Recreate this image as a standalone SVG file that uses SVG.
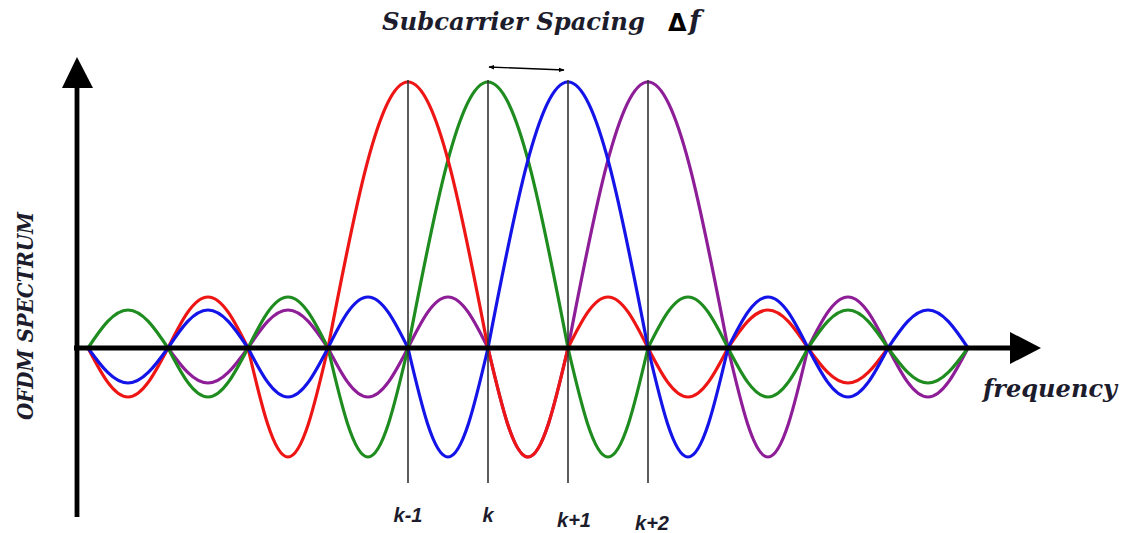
<svg xmlns="http://www.w3.org/2000/svg" width="1126" height="533" viewBox="0 0 1126 533">
<style>
.curve{fill:none;stroke-width:3.2;stroke-linejoin:round;stroke-linecap:round}
.axis{stroke:#000;stroke-width:4.8;fill:none}
.tick{stroke:#333;stroke-width:1.6}
.lbl{font-family:"DejaVu Serif","Liberation Serif",serif;font-weight:bold;font-style:italic;fill:#1c1c2c}
.kl{font-family:"Liberation Sans","DejaVu Sans",sans-serif;font-weight:bold;font-style:italic;fill:#1c1c2c;font-size:20px}
</style>
<defs>
<marker id="ah" viewBox="0 0 10 10" refX="9" refY="5" markerWidth="6" markerHeight="6" orient="auto-start-reverse" markerUnits="userSpaceOnUse">
<path d="M0,1 L10,5 L0,9 z" fill="#000"/>
</marker>
</defs>
<rect width="1126" height="533" fill="#fff"/>
<g id="curves">
<path id="purple" class="curve" stroke="#8e1d98" d="M168,348 c13.05,17.94 25.54,35 40,35 c14.46,0 26.95,-17.06 40,-35 c13.05,-19.48 25.54,-38 40,-38 c14.46,0 26.95,18.52 40,38 c13.05,25.11 25.54,49 40,49 c14.46,0 26.95,-23.89 40,-49 c13.05,-26.14 25.54,-51 40,-51 c14.46,0 26.95,24.86 40,51 c13.05,55.86 25.54,109 40,109 c14.46,0 26.95,-53.14 40,-109 c26.10,-136.33 51.08,-266 80,-266 c28.92,0 53.90,129.68 80,266 c13.05,55.86 25.54,109 40,109 c14.46,0 26.95,-53.14 40,-109 c13.05,-26.14 25.54,-51 40,-51 c14.46,0 26.95,24.86 40,51 c13.05,25.11 25.54,49 40,49 c14.46,0 26.95,-23.89 40,-49"/>
<path id="green" class="curve" stroke="#1f8c1f" d="M88,348 c13.05,-19.48 25.54,-38 40,-38 c14.46,0 26.95,18.52 40,38 c13.05,25.11 25.54,49 40,49 c14.46,0 26.95,-23.89 40,-49 c13.05,-26.14 25.54,-51 40,-51 c14.46,0 26.95,24.86 40,51 c13.05,55.86 25.54,109 40,109 c14.46,0 26.95,-53.14 40,-109 c26.10,-136.33 51.08,-266 80,-266 c28.92,0 53.90,129.68 80,266 c13.05,55.86 25.54,109 40,109 c14.46,0 26.95,-53.14 40,-109 c13.05,-26.14 25.54,-51 40,-51 c14.46,0 26.95,24.86 40,51 c13.05,25.11 25.54,49 40,49 c14.46,0 26.95,-23.89 40,-49 c13.05,-19.48 25.54,-38 40,-38 c14.46,0 26.95,18.52 40,38 c13.05,17.94 25.54,35 40,35 c14.46,0 26.95,-17.06 40,-35"/>
<path id="red" class="curve" stroke="#ee1515" d="M88,348 c13.05,25.11 25.54,49 40,49 c14.46,0 26.95,-23.89 40,-49 c13.05,-26.14 25.54,-51 40,-51 c14.46,0 26.95,24.86 40,51 c13.05,55.86 25.54,109 40,109 c14.46,0 26.95,-53.14 40,-109 c26.10,-136.33 51.08,-266 80,-266 c28.92,0 53.90,129.68 80,266 c13.05,55.86 25.54,109 40,109 c14.46,0 26.95,-53.14 40,-109 c13.05,-26.14 25.54,-51 40,-51 c14.46,0 26.95,24.86 40,51 c13.05,25.11 25.54,49 40,49 c14.46,0 26.95,-23.89 40,-49 c13.05,-19.48 25.54,-38 40,-38 c14.46,0 26.95,18.52 40,38 c13.05,17.94 25.54,35 40,35 c14.46,0 26.95,-17.06 40,-35"/>
<path id="blue" class="curve" stroke="#1414e8" d="M88,348 c13.05,17.94 25.54,35 40,35 c14.46,0 26.95,-17.06 40,-35 c13.05,-19.48 25.54,-38 40,-38 c14.46,0 26.95,18.52 40,38 c13.05,25.11 25.54,49 40,49 c14.46,0 26.95,-23.89 40,-49 c13.05,-26.14 25.54,-51 40,-51 c14.46,0 26.95,24.86 40,51 c13.05,55.86 25.54,109 40,109 c14.46,0 26.95,-53.14 40,-109 c26.10,-136.33 51.08,-266 80,-266 c28.92,0 53.90,129.68 80,266 c13.05,55.86 25.54,109 40,109 c14.46,0 26.95,-53.14 40,-109 c13.05,-26.14 25.54,-51 40,-51 c14.46,0 26.95,24.86 40,51 c13.05,25.11 25.54,49 40,49 c14.46,0 26.95,-23.89 40,-49 c13.05,-19.48 25.54,-38 40,-38 c14.46,0 26.95,18.52 40,38"/>
</g>
<g id="connectors">
<line class="tick" x1="408" y1="80" x2="408" y2="483"/>
<line class="tick" x1="488" y1="80" x2="488" y2="483"/>
<line class="tick" x1="568" y1="80" x2="568" y2="483"/>
<line class="tick" x1="648" y1="80" x2="648" y2="483"/>
<line x1="489" y1="67" x2="564" y2="70" stroke="#000" stroke-width="1.4" marker-start="url(#ah)" marker-end="url(#ah)"/>
</g>
<g id="axes">
<line class="axis" x1="77" y1="86" x2="77" y2="517"/>
<polygon points="62,88 77,57 93,88" fill="#000"/>
<line class="axis" x1="74" y1="348" x2="1012" y2="348"/>
<polygon points="1010,332 1041,348 1010,364" fill="#000"/>
</g>
<g id="labels">
<text class="lbl" x="382" y="30" font-size="25" textLength="263" lengthAdjust="spacingAndGlyphs">Subcarrier Spacing</text>
<text x="668" y="31" font-family="DejaVu Sans, sans-serif" font-weight="bold" font-size="24" fill="#000">Δ</text>
<text class="lbl" x="689" y="30" font-size="27">f</text>
<text class="lbl" transform="translate(33,316) rotate(-90)" text-anchor="middle" font-size="23" textLength="208" lengthAdjust="spacingAndGlyphs">OFDM SPECTRUM</text>
<text class="lbl" x="983" y="397" font-size="25" textLength="134" lengthAdjust="spacingAndGlyphs">frequency</text>
<text class="kl" x="408" y="522" text-anchor="middle">k-1</text>
<text class="kl" x="488" y="522" text-anchor="middle">k</text>
<text class="kl" x="574" y="527" text-anchor="middle">k+1</text>
<text class="kl" x="652" y="530" text-anchor="middle">k+2</text>
</g>
</svg>
